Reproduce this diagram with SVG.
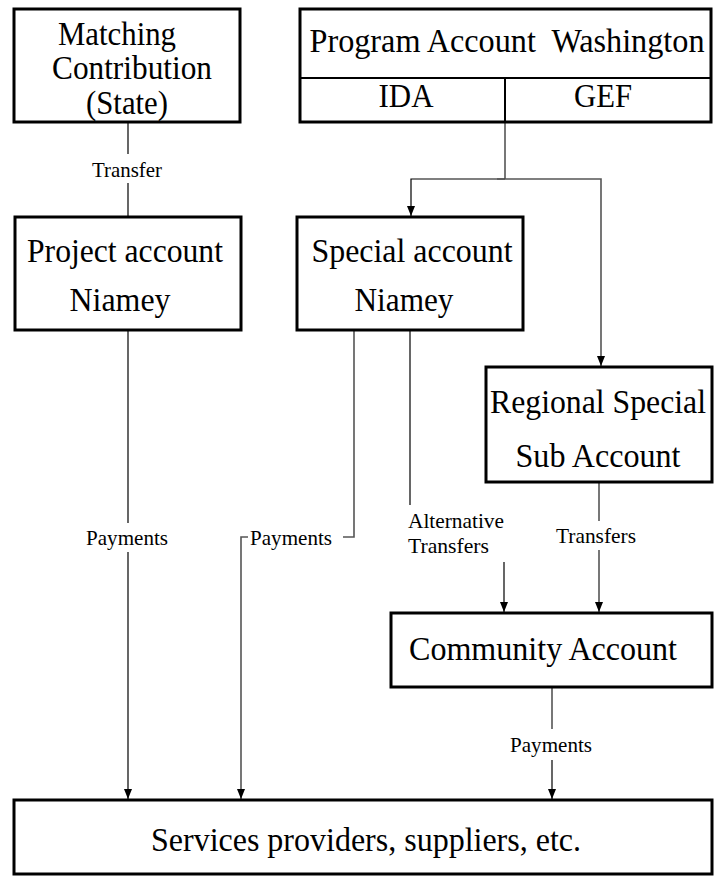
<svg xmlns="http://www.w3.org/2000/svg" width="714" height="876" viewBox="0 0 714 876">
<style>
.box{fill:#fff;stroke:#000;stroke-width:3}
.div{stroke:#000;stroke-width:2;fill:none}
.big{font-family:"Liberation Serif","Times New Roman",serif;font-size:33px;fill:#000;text-anchor:middle}
.lbl{font-family:"Liberation Serif","Times New Roman",serif;font-size:21px;fill:#000}
.c{stroke:#000;stroke-width:1.2;fill:none}
.g{stroke:#555;stroke-width:1.6;fill:none}
</style>
<defs>
<marker id="ah" markerUnits="userSpaceOnUse" markerWidth="10" markerHeight="8" refX="10" refY="4" orient="auto">
<path d="M0,0 L10,4 L0,8 z" fill="#000"/>
</marker>
</defs>
<rect width="714" height="876" fill="#fff"/>

<g id="connectors">
<line class="c" x1="128" y1="122" x2="128" y2="154"/>
<line class="c" x1="128" y1="183" x2="128" y2="217"/>
<text class="lbl" x="127" y="177" text-anchor="middle" textLength="70" lengthAdjust="spacingAndGlyphs">Transfer</text>
<polyline class="g" points="505,122 505,179"/>
<polyline class="c" points="505,179 411,179 411,216" marker-end="url(#ah)"/>
<polyline class="g" points="497,179 601,179 601,366" marker-end="url(#ah)"/>
<line class="c" x1="128" y1="330" x2="128" y2="523"/>
<text class="lbl" x="127" y="545" text-anchor="middle" textLength="82" lengthAdjust="spacingAndGlyphs">Payments</text>
<line class="c" x1="128" y1="552" x2="128" y2="799" marker-end="url(#ah)"/>
<polyline class="g" points="354,330 354,537 343,537"/>
<polyline class="g" points="248,537 241,537 241,799" marker-end="url(#ah)"/>
<text class="lbl" x="250" y="545" textLength="82" lengthAdjust="spacingAndGlyphs">Payments</text>
<line class="c" x1="410" y1="330" x2="410" y2="505"/>
<text class="lbl" x="408" y="528" textLength="96" lengthAdjust="spacingAndGlyphs">Alternative</text>
<text class="lbl" x="408" y="553" textLength="81" lengthAdjust="spacingAndGlyphs">Transfers</text>
<line class="c" x1="504" y1="562" x2="504" y2="612" marker-end="url(#ah)"/>
<line class="g" x1="599" y1="482" x2="599" y2="521"/>
<text class="lbl" x="596" y="543" text-anchor="middle" textLength="80" lengthAdjust="spacingAndGlyphs">Transfers</text>
<line class="g" x1="599" y1="550" x2="599" y2="612" marker-end="url(#ah)"/>
<line class="g" x1="552" y1="687" x2="552" y2="729"/>
<text class="lbl" x="551" y="752" text-anchor="middle" textLength="82" lengthAdjust="spacingAndGlyphs">Payments</text>
<line class="c" x1="552" y1="760" x2="552" y2="799" marker-end="url(#ah)"/>
</g>

<g id="matching">
<rect class="box" x="14" y="9" width="226" height="113"/>
<text class="big" x="117" y="45" font-size="27" textLength="118" lengthAdjust="spacingAndGlyphs">Matching</text>
<text class="big" x="132" y="79" font-size="27" textLength="160" lengthAdjust="spacingAndGlyphs">Contribution</text>
<text class="big" x="127" y="114" font-size="27" textLength="82" lengthAdjust="spacingAndGlyphs">(State)</text>
</g>

<g id="program">
<rect class="box" x="300" y="9" width="411" height="113"/>
<line class="div" x1="300" y1="78" x2="711" y2="78"/>
<line class="div" x1="505" y1="78" x2="505" y2="122"/>
<text class="big" x="507" y="52" xml:space="preserve" textLength="395" lengthAdjust="spacingAndGlyphs">Program Account  Washington</text>
<text class="big" x="406" y="107" textLength="55" lengthAdjust="spacingAndGlyphs">IDA</text>
<text class="big" x="603" y="107" textLength="58" lengthAdjust="spacingAndGlyphs">GEF</text>
</g>

<g id="project">
<rect class="box" x="15" y="217" width="226" height="113"/>
<text class="big" x="125" y="262" textLength="196" lengthAdjust="spacingAndGlyphs">Project account</text>
<text class="big" x="120" y="311" textLength="101" lengthAdjust="spacingAndGlyphs">Niamey</text>
</g>

<g id="special">
<rect class="box" x="297" y="217" width="226" height="113"/>
<text class="big" x="412" y="262" textLength="201" lengthAdjust="spacingAndGlyphs">Special account</text>
<text class="big" x="404" y="311" textLength="99" lengthAdjust="spacingAndGlyphs">Niamey</text>
</g>

<g id="regional">
<rect class="box" x="486" y="367" width="226" height="115"/>
<text class="big" x="598" y="413" textLength="216" lengthAdjust="spacingAndGlyphs">Regional Special</text>
<text class="big" x="598" y="467" textLength="165" lengthAdjust="spacingAndGlyphs">Sub Account</text>
</g>

<g id="community">
<rect class="box" x="391" y="613" width="321" height="74"/>
<text class="big" x="543" y="660" textLength="268" lengthAdjust="spacingAndGlyphs">Community Account</text>
</g>

<g id="services">
<rect class="box" x="14" y="800" width="698" height="74"/>
<text class="big" x="366" y="851" textLength="430" lengthAdjust="spacingAndGlyphs">Services providers, suppliers, etc.</text>
</g>
</svg>
